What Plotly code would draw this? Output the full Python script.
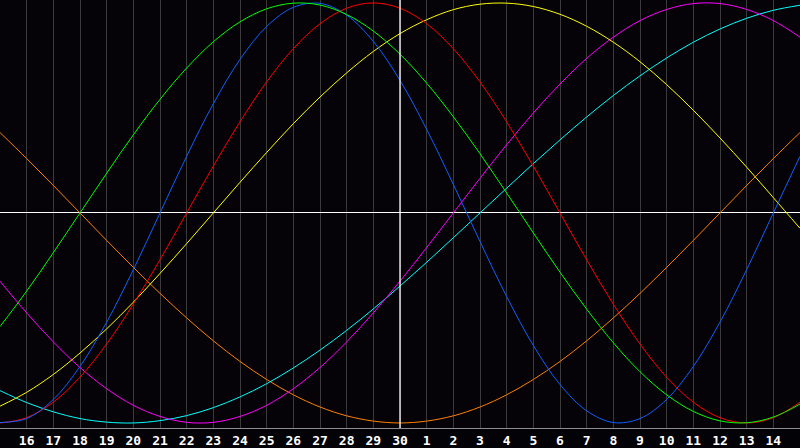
import plotly.graph_objects as go

# day positions (0 = left edge, 30 = right edge), one sample per day
day_pos = list(range(31))
tick_pos = list(range(1, 30))
tick_labels = ["16", "17", "18", "19", "20", "21", "22", "23", "24", "25", "26", "27",
               "28", "29", "30", "1", "2", "3", "4", "5", "6", "7", "8", "9", "10",
               "11", "12", "13", "14"]
today_label = "30"

green = [-0.541, -0.372, -0.189, 0.0, 0.189, 0.372, 0.541, 0.690, 0.815, 0.910, 0.972,
         0.999, 0.990, 0.945, 0.866, 0.756, 0.618, 0.458, 0.282, 0.095, -0.095, -0.282,
         -0.458, -0.618, -0.756, -0.866, -0.945, -0.990, -0.999, -0.972, -0.910]
blue = [-0.998, -0.979, -0.888, -0.731, -0.520, -0.270, 0.0, 0.270, 0.520, 0.731, 0.888,
        0.979, 0.998, 0.942, 0.817, 0.631, 0.398, 0.136, -0.136, -0.398, -0.631, -0.817,
        -0.942, -0.998, -0.979, -0.888, -0.731, -0.520, -0.270, 0.0, 0.270]
red = [-1.0, -0.975, -0.901, -0.782, -0.624, -0.434, -0.223, 0.0, 0.223, 0.434, 0.624,
       0.782, 0.901, 0.975, 1.0, 0.975, 0.901, 0.782, 0.624, 0.434, 0.223, 0.0, -0.223,
       -0.434, -0.624, -0.782, -0.901, -0.975, -1.0, -0.975, -0.901]
yellow = [-0.920, -0.854, -0.769, -0.667, -0.552, -0.425, -0.288, -0.146, 0.0, 0.146,
          0.288, 0.425, 0.552, 0.667, 0.769, 0.854, 0.920, 0.968, 0.994, 0.999, 0.983,
          0.946, 0.889, 0.813, 0.720, 0.611, 0.489, 0.357, 0.218, 0.073, -0.073]
magenta = [-0.325, -0.476, -0.614, -0.736, -0.837, -0.916, -0.969, -0.997, -0.997, -0.969,
           -0.916, -0.837, -0.736, -0.614, -0.476, -0.325, -0.165, 0.0, 0.165, 0.325,
           0.476, 0.614, 0.736, 0.837, 0.916, 0.969, 0.997, 0.997, 0.969, 0.916, 0.837]
cyan = [-0.846, -0.903, -0.947, -0.979, -0.996, -1.0, -0.989, -0.965, -0.927, -0.876,
        -0.813, -0.738, -0.653, -0.559, -0.457, -0.348, -0.235, -0.118, 0.0, 0.118, 0.235,
        0.348, 0.457, 0.559, 0.653, 0.738, 0.813, 0.876, 0.927, 0.965, 0.989]
orange = [0.383, 0.259, 0.131, 0.0, -0.131, -0.259, -0.383, -0.5, -0.609, -0.707, -0.793,
          -0.866, -0.924, -0.966, -0.991, -1.0, -0.991, -0.966, -0.924, -0.866, -0.793,
          -0.707, -0.609, -0.5, -0.383, -0.259, -0.131, 0.0, 0.131, 0.259, 0.383]

series = [
    (orange, "#ff8000"),
    (cyan, "#00ffff"),
    (magenta, "#ff00ff"),
    (yellow, "#ffff00"),
    (red, "#ff0000"),
    (blue, "#1060ff"),
    (green, "#00ff00"),
]

fig = go.Figure()
for vals, col in series:
    fig.add_trace(go.Scatter(x=day_pos, y=vals, mode="lines",
                             line=dict(color=col, width=1, shape="spline", smoothing=1.0),
                             hoverinfo="skip", showlegend=False))

today_pos = tick_pos[tick_labels.index(today_label)]
fig.add_vline(x=today_pos, line=dict(color="#ffffff", width=1.3))

fig.update_layout(
    width=800, height=448,
    margin=dict(l=0, r=0, t=0, b=20, autoexpand=False),
    paper_bgcolor="#030206",
    plot_bgcolor="#050308",
    showlegend=False,
)
fig.update_xaxes(
    range=[0, 30],
    tickvals=tick_pos, ticktext=tick_labels,
    tickfont=dict(family="DejaVu Sans Mono", size=13, color="#ffffff", weight="bold"),
    showgrid=True, gridcolor="#3a3a3a", gridwidth=1,
    showline=True, linecolor="#8c8c8c", linewidth=1, mirror=True,
    ticks="", zeroline=False, ticklabelstandoff=0,
)
fig.update_yaxes(
    range=[-1.024, 1.014],
    showticklabels=False, showgrid=False,
    zeroline=True, zerolinecolor="#ffffff", zerolinewidth=1.3,
    showline=True, linecolor="#8c8c8c", linewidth=1, mirror=True,
    ticks="",
)

fig.write_html("out.html", config={"displayModeBar": False},
               post_script="document.body.style.margin='0';document.body.style.background='#030206';")
